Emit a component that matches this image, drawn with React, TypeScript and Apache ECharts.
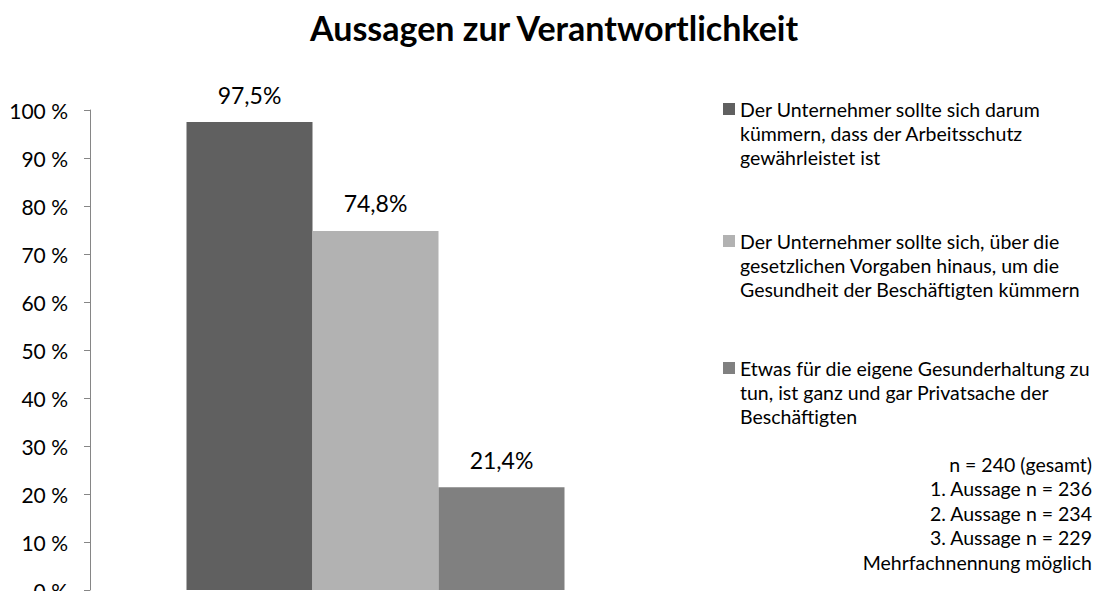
import React, { useEffect, useRef } from "react";
import * as echarts from "echarts";

const titleText = "Aussagen zur Verantwortlichkeit";
const seriesNames = [
  "Der Unternehmer sollte sich darum\nkümmern, dass der Arbeitsschutz\ngewährleistet ist",
  "Der Unternehmer sollte sich, über die\ngesetzlichen Vorgaben hinaus, um die\nGesundheit der Beschäftigten kümmern",
  "Etwas für die eigene Gesunderhaltung zu\ntun, ist ganz und gar Privatsache der\nBeschäftigten",
];
const seriesValues = [97.5, 74.8, 21.4];
const seriesColors = ["#606060", "#b2b2b2", "#808080"];
const categories = [""];
const notes = [
  "n = 240 (gesamt)",
  "1. Aussage n = 236",
  "2. Aussage n = 234",
  "3. Aussage n = 229",
  "Mehrfachnennung möglich",
];

const FONT = "Lato";

export default function App() {
  const ref = useRef<HTMLDivElement>(null);
  useEffect(() => {
    if (!ref.current) return;
    const chart = echarts.init(ref.current, undefined, { renderer: "svg" });
    const legendTops = [49, 181, 308];
    chart.setOption({
      animation: false,
      backgroundColor: "#ffffff",
      textStyle: { fontFamily: FONT },
      title: {
        text: titleText,
        left: 310,
        top: 10,
        padding: 0,
        textStyle: { fontFamily: FONT, fontWeight: "bold", fontSize: 34, color: "#000" },
      },
      legend: seriesNames.map((n, i) => ({
        data: [n],
        orient: "vertical",
        left: 723,
        top: legendTops[i],
        padding: 0,
        itemWidth: 12,
        itemHeight: 12,
        itemGap: 0,
        icon: "rect",
        selectedMode: false,
        formatter: (name: string) => "\n\n" + name,
        textStyle: {
          fontFamily: FONT,
          fontSize: 19.5,
          color: "#000",
          lineHeight: 24,
        },
      })),
      grid: {
        left: 90,
        top: 110,
        right: 437,
        bottom: 1,
        containLabel: false,
        outerBoundsMode: "none",
      },
      xAxis: {
        type: "category",
        data: categories,
        axisLine: { show: false },
        axisTick: { show: false },
        axisLabel: { show: false },
      },
      yAxis: {
        type: "value",
        min: 0,
        max: 100,
        interval: 10,
        axisLine: { show: true, lineStyle: { color: "#868686", width: 1 } },
        axisTick: { show: true, length: 6, lineStyle: { color: "#868686" } },
        splitLine: { show: false },
        axisLabel: {
          formatter: "{value} %",
          fontFamily: FONT,
          fontSize: 21,
          color: "#000",
          margin: 22,
        },
      },
      series: seriesNames.map((n, i) => ({
        type: "bar",
        name: n,
        data: [seriesValues[i]],
        barWidth: 126,
        barGap: "0%",
        itemStyle: { color: seriesColors[i] },
        label: {
          show: true,
          position: "top",
          distance: 16,
          fontFamily: FONT,
          fontSize: 23,
          color: "#000",
          formatter: (p: any) => p.value.toFixed(1).replace(".", ",") + "%",
        },
      })),
      graphic: [
        {
          type: "text",
          x: 1092,
          y: 452,
          style: {
            text: notes.join("\n"),
            fontFamily: FONT,
            fontSize: 19.5,
            lineHeight: 24.5,
            fill: "#000",
            align: "right",
            textAlign: "right",
            verticalAlign: "top",
            textVerticalAlign: "top",
          },
        },
      ],
    });
    return () => chart.dispose();
  }, []);
  return <div ref={ref} style={{ width: 1098, height: 591, position: "absolute", left: 0, top: 0 }} />;
}
